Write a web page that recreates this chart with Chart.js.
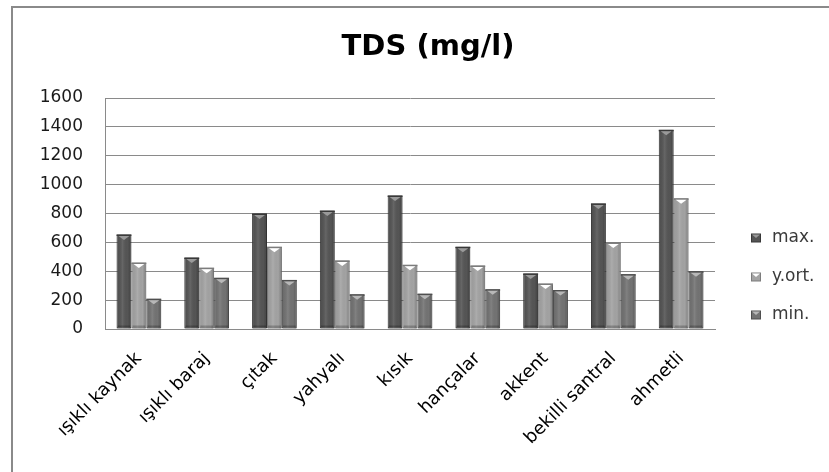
<!DOCTYPE html>
<html>
<head>
<meta charset="utf-8">
<script src="https://cdn.jsdelivr.net/npm/chart.js@4/dist/chart.umd.min.js"></script>
<style>
  html, body { margin: 0; padding: 0; background: #ffffff; }
  #wrap { width: 829px; height: 472px; position: relative; }
</style>
</head>
<body>
<div id="wrap"><canvas id="c" width="829" height="472"></canvas></div>
<script>
// Sampling sites
const sites = ['ışıklı kaynak', 'ışıklı baraj', 'çıtak', 'yahyalı', 'kısık', 'hançalar', 'akkent', 'bekilli santral', 'ahmetli'];
// TDS values (mg/l)
const maxValues = [655, 495, 800, 820, 925, 570, 385, 870, 1380];
const avgValues = [460, 425, 570, 475, 445, 440, 315, 600, 905];
const minValues = [210, 355, 340, 240, 245, 275, 270, 380, 400];
const seriesNames = ['max.', 'y.ort.', 'min.'];
const yTicks = [0, 200, 400, 600, 800, 1000, 1200, 1400, 1600];

const FONT = "'DejaVu Sans', sans-serif";

// body colour, edge colour, cap colour per series
const palette = [
  { body: '#555555', edge: '#383838', cap: '#9a9a9a' },
  { body: '#a3a3a3', edge: '#7c7c7c', cap: '#ffffff' },
  { body: '#737373', edge: '#4f4f4f', cap: '#b8b8b8' }
];

// Frame around the chart area
const framePlugin = {
  id: 'frame',
  beforeDraw(chart) {
    const ctx = chart.ctx;
    ctx.save();
    ctx.strokeStyle = '#8a8a8a';
    ctx.lineWidth = 2;
    ctx.beginPath();
    ctx.moveTo(12, chart.height);
    ctx.lineTo(12, 7);
    ctx.lineTo(chart.width, 7);
    ctx.stroke();
    ctx.restore();
  }
};

// Title text
const titlePlugin = {
  id: 'titleText',
  afterDraw(chart) {
    const ctx = chart.ctx;
    ctx.save();
    ctx.fillStyle = '#000000';
    ctx.font = "bold 29px " + FONT;
    ctx.textAlign = 'center';
    ctx.textBaseline = 'alphabetic';
    ctx.fillText('TDS (mg/l)', 428, 55);
    ctx.restore();
  }
};

// Soft shadow behind the bars
const shadowPlugin = {
  id: 'barShadow',
  beforeDatasetsDraw(chart) {
    const ctx = chart.ctx;
    ctx.save();
    ctx.shadowColor = 'rgba(0,0,0,0.2)';
    ctx.shadowBlur = 4;
    ctx.shadowOffsetX = 2;
    ctx.shadowOffsetY = 0;
  },
  afterDatasetsDraw(chart) {
    chart.ctx.restore();
  }
};

// Cylinder shading and top caps on each bar
const shadePlugin = {
  id: 'barShade',
  afterDatasetsDraw(chart) {
    const ctx = chart.ctx;
    chart.data.datasets.forEach((ds, di) => {
      const meta = chart.getDatasetMeta(di);
      const col = palette[di];
      meta.data.forEach(bar => {
        const w = bar.width;
        const left = bar.x - w / 2;
        const top = bar.y;
        const bottom = bar.base;
        const g = ctx.createLinearGradient(left, 0, left + w, 0);
        g.addColorStop(0, 'rgba(0,0,0,0.22)');
        g.addColorStop(0.12, 'rgba(0,0,0,0.04)');
        g.addColorStop(0.4, 'rgba(255,255,255,0.10)');
        g.addColorStop(0.75, 'rgba(0,0,0,0.0)');
        g.addColorStop(1, 'rgba(0,0,0,0.25)');
        ctx.save();
        ctx.fillStyle = g;
        ctx.fillRect(left + 1, top + 1, w - 2, bottom - top - 1);
        // top rim
        ctx.fillStyle = col.edge;
        ctx.fillRect(left, top, w, 1.5);
        // downward cap triangle
        ctx.fillStyle = col.cap;
        ctx.beginPath();
        ctx.moveTo(left + 2, top + 1.5);
        ctx.lineTo(left + w - 2, top + 1.5);
        ctx.lineTo(bar.x, top + 5.5);
        ctx.closePath();
        ctx.fill();
        // darker foot
        ctx.fillStyle = 'rgba(0,0,0,0.22)';
        ctx.fillRect(left + 1, bottom - 3, w - 2, 3);
        ctx.restore();
      });
    });
  }
};

// Legend on the right
const legendPlugin = {
  id: 'sideLegend',
  afterDraw(chart) {
    const ctx = chart.ctx;
    const rows = [238, 277, 315];
    ctx.save();
    ctx.font = "17px " + FONT;
    ctx.textBaseline = 'middle';
    ctx.textAlign = 'left';
    chart.data.datasets.forEach((ds, i) => {
      const y = rows[i];
      const col = palette[i];
      ctx.fillStyle = col.edge;
      ctx.fillRect(751, y - 4.5, 10, 9);
      ctx.fillStyle = col.body;
      ctx.fillRect(752, y - 3.5, 8, 7);
      ctx.fillStyle = col.cap;
      ctx.beginPath();
      ctx.moveTo(752, y - 3.5);
      ctx.lineTo(760, y - 3.5);
      ctx.lineTo(756, y);
      ctx.closePath();
      ctx.fill();
      ctx.fillStyle = '#3a3a3a';
      ctx.fillText(ds.label, 772, y);
    });
    ctx.restore();
  }
};

const ctxEl = document.getElementById('c');
new Chart(ctxEl, {
  type: 'bar',
  data: {
    labels: sites,
    datasets: [maxValues, avgValues, minValues].map((vals, i) => ({
      label: seriesNames[i],
      data: vals,
      backgroundColor: palette[i].body,
      borderColor: palette[i].edge,
      borderWidth: 1,
      borderSkipped: false,
      categoryPercentage: 0.66,
      barPercentage: 1.0
    }))
  },
  options: {
    responsive: false,
    animation: false,
    devicePixelRatio: 1,
    layout: { padding: { left: 20, top: 98, right: 114, bottom: 0 } },
    plugins: {
      legend: { display: false },
      title: { display: false },
      tooltip: { enabled: false }
    },
    scales: {
      x: {
        grid: { display: false, drawTicks: false },
        border: { display: true, color: '#8a8a8a', width: 1 },
        ticks: {
          minRotation: 45,
          maxRotation: 45,
          padding: 19,
          color: '#000000',
          font: { family: FONT, size: 18 }
        },
        afterFit(scale) { scale.height = 143; }
      },
      y: {
        min: 0,
        max: 1600,
        afterBuildTicks(scale) { scale.ticks = yTicks.map(v => ({ value: v })); },
        grid: { color: '#8a8a8a', lineWidth: 1, drawTicks: false },
        border: { display: true, color: '#8a8a8a', width: 1 },
        ticks: {
          padding: 22,
          color: '#1a1a1a',
          font: { family: FONT, size: 17 },
          callback: v => String(v)
        },
        afterFit(scale) { scale.width = 85; }
      }
    }
  },
  plugins: [framePlugin, shadowPlugin, shadePlugin, legendPlugin, titlePlugin]
});
</script>
</body>
</html>
